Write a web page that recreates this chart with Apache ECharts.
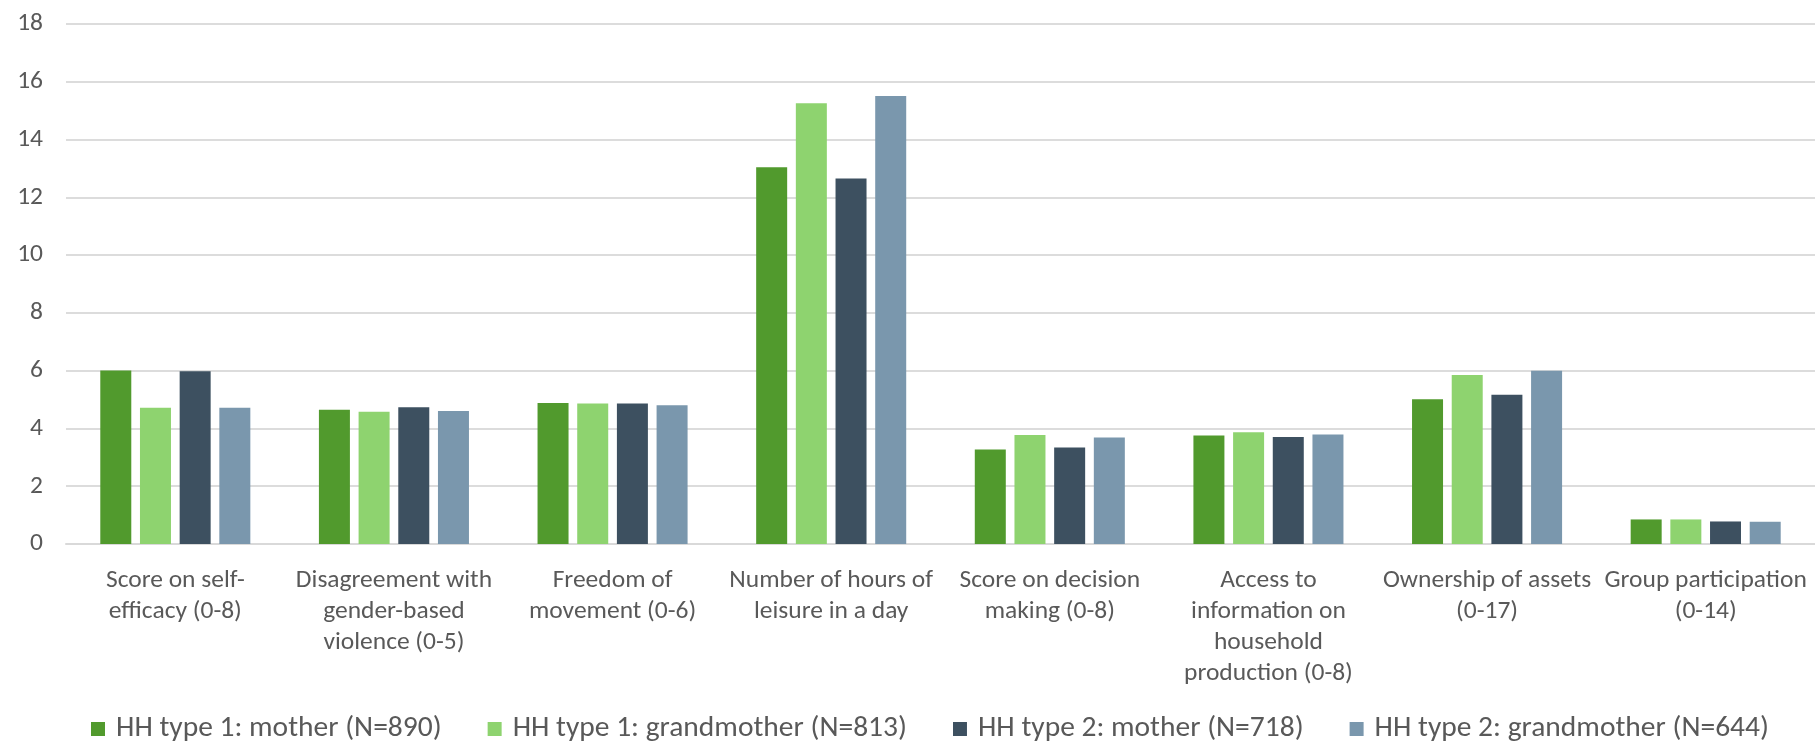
<!DOCTYPE html>
<html>
<head>
<meta charset="utf-8">
<script src="https://cdn.jsdelivr.net/npm/echarts@6/dist/echarts.min.js"></script>
<style>
html,body{margin:0;padding:0;background:#fff;}
#chart{width:1815px;height:742px;}
</style>
</head>
<body>
<div id="chart"></div>
<script>
const categories = [
  "Score on self-\nefficacy (0-8)",
  "Disagreement with\ngender-based\nviolence (0-5)",
  "Freedom of\nmovement (0-6)",
  "Number of hours of\nleisure in a day",
  "Score on decision\nmaking (0-8)",
  "Access to\ninformation on\nhousehold\nproduction (0-8)",
  "Ownership of assets\n(0-17)",
  "Group participation\n(0-14)"
];
const seriesNames = [
  "HH type 1: mother (N=890)",
  "HH type 1: grandmother (N=813)",
  "HH type 2: mother (N=718)",
  "HH type 2: grandmother (N=644)"
];
const type1Mother      = [6.01, 4.65, 4.88, 13.04, 3.27, 3.76, 5.01, 0.85];
const type1Grandmother = [4.72, 4.58, 4.86, 15.26, 3.77, 3.87, 5.85, 0.85];
const type2Mother      = [5.98, 4.73, 4.86, 12.65, 3.34, 3.70, 5.17, 0.78];
const type2Grandmother = [4.72, 4.60, 4.80, 15.51, 3.69, 3.79, 6.00, 0.77];
const yTicks = [0, 2, 4, 6, 8, 10, 12, 14, 16, 18];

const colors = ["#519A2D", "#8ED36F", "#3D5060", "#7A97AD"];
const values = [type1Mother, type1Grandmother, type2Mother, type2Grandmother];
const FONT = "Carlito, Lato, sans-serif";

const chart = echarts.init(document.getElementById('chart'), null, {renderer: 'canvas'});
chart.setOption({
  animation: false,
  backgroundColor: '#ffffff',
  color: colors,
  textStyle: {fontFamily: FONT},
  grid: {left: 66, right: 0, top: 24, bottom: 198, containLabel: false},
  legend: {
    top: 709,
    left: 86,
    itemWidth: 14,
    itemHeight: 14,
    itemGap: 46,
    icon: 'rect',
    textStyle: {color: '#595959', fontSize: 29.5, lineHeight: 30, fontFamily: FONT, padding: [0, 0, 0, 6]},
    data: seriesNames
  },
  xAxis: {
    type: 'category',
    data: categories,
    axisLine: {show: true, lineStyle: {color: '#d9d9d9', width: 2}},
    axisTick: {show: false},
    axisLabel: {
      interval: 0,
      color: '#595959',
      fontSize: 25.5,
      lineHeight: 31,
      margin: 21,
      fontFamily: FONT
    }
  },
  yAxis: {
    type: 'value',
    min: 0,
    max: 18,
    interval: 2,
    axisLine: {show: false},
    axisTick: {show: false},
    splitLine: {lineStyle: {color: '#dcdcdc', width: 2}},
    axisLabel: {
      color: '#595959',
      fontSize: 25.5,
      margin: 23,
      fontFamily: FONT,
      formatter: v => yTicks.includes(v) ? String(v) : ''
    }
  },
  series: seriesNames.map((name, i) => ({
    name: name,
    type: 'bar',
    data: values[i],
    barWidth: 31,
    barGap: '28%',
    itemStyle: {color: colors[i]}
  }))
});
</script>
</body>
</html>
